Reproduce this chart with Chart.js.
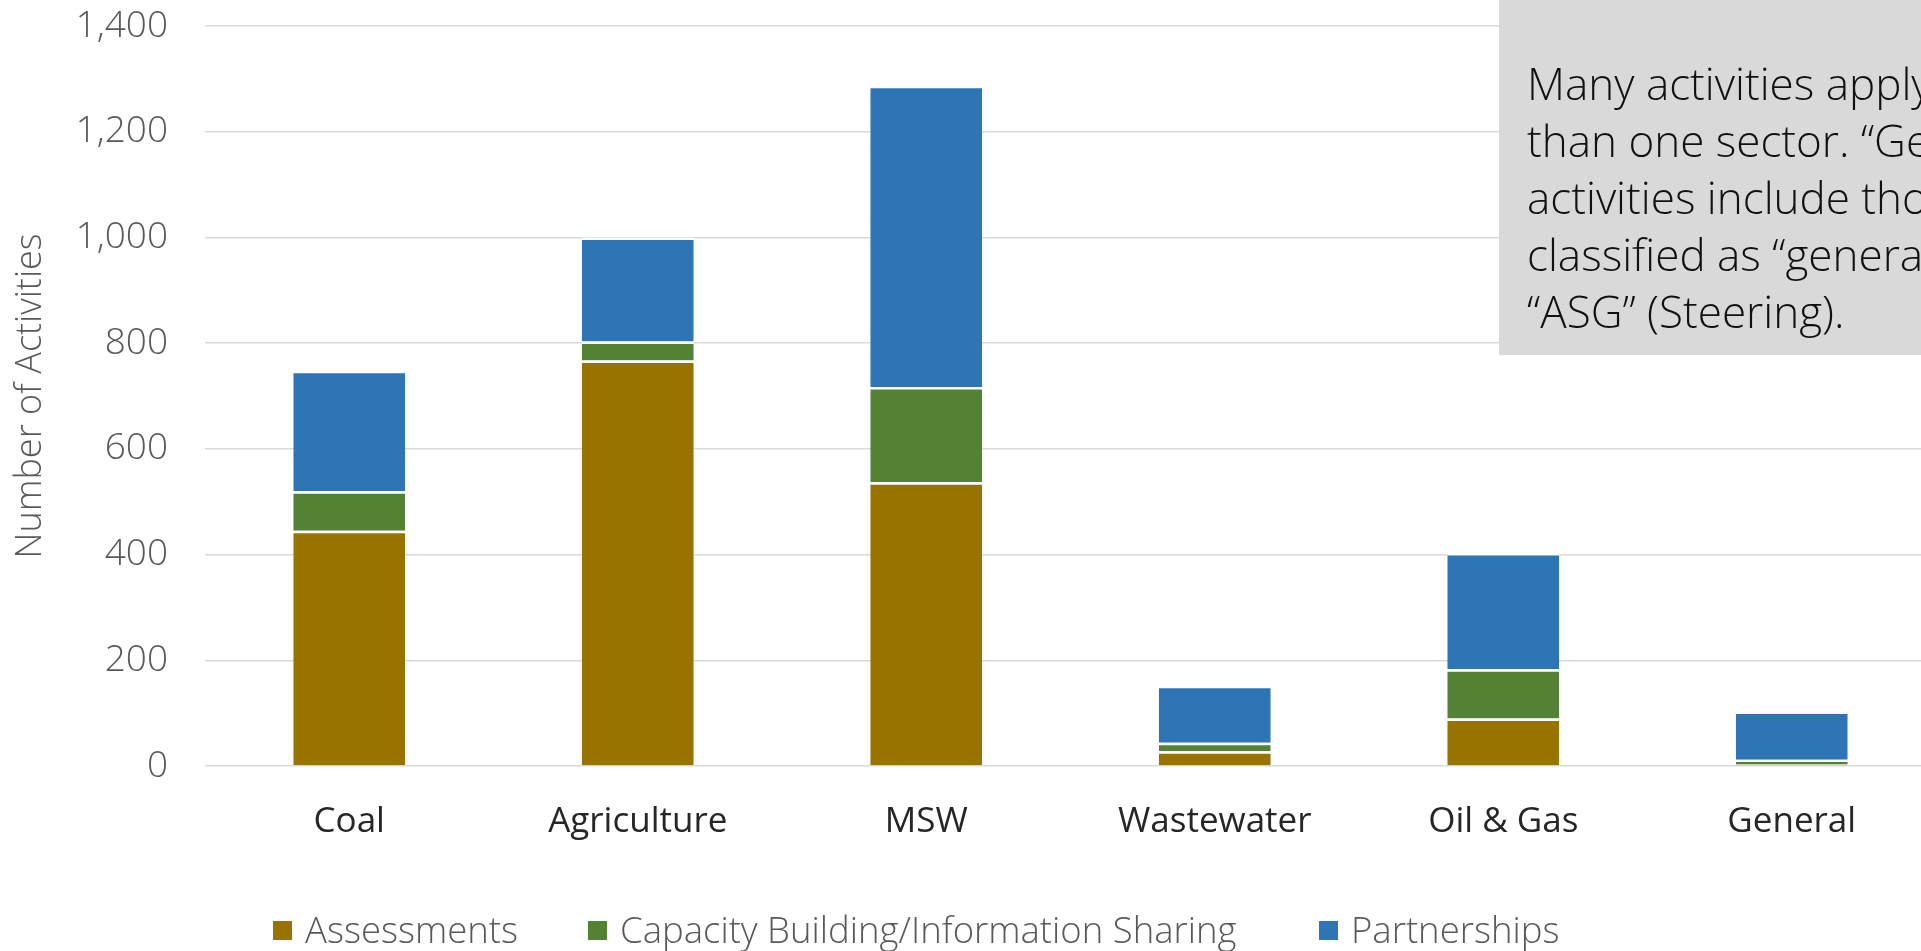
<!DOCTYPE html>
<html>
<head>
<meta charset="utf-8">
<script src="https://cdn.jsdelivr.net/npm/chart.js@4.4.1/dist/chart.umd.min.js"></script>
<style>
    html, body { margin: 0; padding: 0; background: #fff; overflow: hidden; width: 1921px; height: 951px; }
    #wrap { position: absolute; left: 0; top: 0; width: 1936px; height: 951px; }
    #note {
        position: absolute; left: 1499px; top: 0; width: 520px; height: 355px;
        background: #d9d9d9; box-sizing: border-box; padding: 55px 0 0 28px;
        font-family: "Open Sans", sans-serif; font-weight: 300; font-size: 44px;
        line-height: 57px; color: #111; white-space: nowrap;
    }
    #legend {
        position: absolute; left: 0; top: 909px; width: 1921px; height: 40px;
        font-family: "Open Sans", sans-serif; font-weight: 300; font-size: 36.5px;
        line-height: 40px; color: #595959; white-space: nowrap;
    }
    #legend .item { position: absolute; top: 0; display: flex; align-items: center; }
    #legend .box { width: 19px; height: 19px; margin-right: 13px; margin-top: 3px; }
</style>
</head>
<body>
<div id="wrap"><canvas id="chart"></canvas></div>
<div id="note">Many activities apply to more<br>than one sector. “General”<br>activities include those<br>classified as “general” or<br>“ASG” (Steering).</div>
<div id="legend"></div>
<script>
const categories = ['Coal', 'Agriculture', 'MSW', 'Wastewater', 'Oil & Gas', 'General']
const assessments = [445, 767, 537, 28, 90, 3]
const capacityBuilding = [75, 36, 180, 16, 93, 9]
const partnerships = [228, 197, 570, 108, 220, 91]
const yTicks = [0, 200, 400, 600, 800, 1000, 1200, 1400]

// where each legend entry starts, in px
const legendLeft = [273, 588, 1319]

const barStyle = {
    borderColor: '#ffffff',
    borderWidth: { top: 2.5, right: 0, bottom: 0, left: 0 },
    borderSkipped: 'start',
    categoryPercentage: 1,
    barPercentage: 0.388
}

const data = {
    labels: categories,
    datasets: [
        { label: 'Assessments', data: assessments, backgroundColor: '#997300', ...barStyle },
        { label: 'Capacity Building/Information Sharing', data: capacityBuilding, backgroundColor: '#548235', ...barStyle },
        { label: 'Partnerships', data: partnerships, backgroundColor: '#2e75b6', ...barStyle }
    ]
}

const config = {
    type: 'bar',
    data: data,
    options: {
        responsive: true,
        maintainAspectRatio: false,
        animation: false,
        devicePixelRatio: 1,
        locale: 'en-US',
        layout: { padding: { top: 26, right: 0, bottom: 73, left: 0 } },
        plugins: {
            legend: { display: false }, // legend is drawn in html below
            tooltip: { enabled: false }
        },
        scales: {
            x: {
                stacked: true,
                grid: { display: false, drawTicks: false },
                border: { display: false },
                ticks: {
                    color: '#262626',
                    padding: 35,
                    font: { family: 'Open Sans', size: 35, weight: 400 }
                }
            },
            y: {
                stacked: true,
                min: yTicks[0],
                max: yTicks[yTicks.length - 1],
                afterBuildTicks: (scale) => { scale.ticks = yTicks.map(v => ({ value: v })) },
                afterFit: (scale) => {
                    scale.width = 205
                    scale.paddingTop = 0
                    scale.paddingBottom = 0
                },
                grid: { color: '#d9d9d9', lineWidth: 1.5, drawTicks: false },
                border: { display: false },
                ticks: {
                    color: '#595959',
                    padding: 37,
                    font: { family: 'Open Sans', size: 37, weight: 300 }
                },
                title: {
                    display: true,
                    text: 'Number of Activities',
                    color: '#595959',
                    padding: { top: 9, bottom: 4 },
                    font: { family: 'Open Sans', size: 36, weight: 300 }
                }
            }
        }
    }
}

const chart = new Chart(document.getElementById('chart'), config)

const legendEl = document.getElementById('legend')
chart.data.datasets.forEach((ds, i) => {
    const item = document.createElement('div')
    item.className = 'item'
    item.style.left = legendLeft[i] + 'px'
    const box = document.createElement('span')
    box.className = 'box'
    box.style.background = ds.backgroundColor
    const txt = document.createElement('span')
    txt.textContent = ds.label
    item.appendChild(box)
    item.appendChild(txt)
    legendEl.appendChild(item)
})
</script>
</body>
</html>
